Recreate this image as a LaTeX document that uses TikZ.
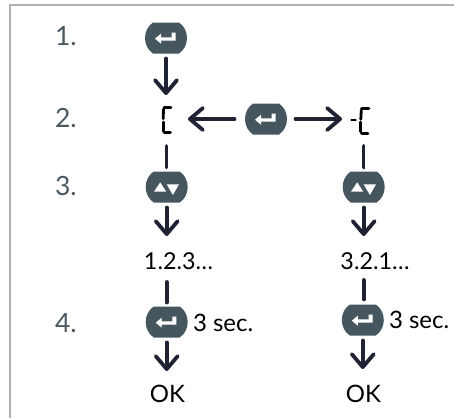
\documentclass[tikz,border=0pt]{standalone}
\usepackage{fontspec}
\setmainfont{Lato}
\usetikzlibrary{arrows.meta}
\definecolor{btnfill}{HTML}{46565F}
\definecolor{conncol}{HTML}{1F2233}
\definecolor{steplabel}{HTML}{4A5860}
\definecolor{framecol}{HTML}{B0B0B0}
\newcommand{\btnbody}{%
  \fill[btnfill] (-13,-15.5) -- (13,-15.5) .. controls (18,-12) and (21,-6.5) .. (21,0)
    .. controls (21,6.5) and (18,12) .. (13,15.5) -- (-13,15.5)
    .. controls (-18,12) and (-21,6.5) .. (-21,0) .. controls (-21,-6.5) and (-18,-12) .. (-13,-15.5) -- cycle;}
\tikzset{
  btnbase/.style={inner sep=0pt,outer sep=0pt,minimum width=42pt,minimum height=31pt},
  enterbtn/.style={btnbase,path picture={
    \begin{scope}[shift={(path picture bounding box.center)}]
      \btnbody
      \fill[white] (-11,0.7) -- (-5,-4.3) -- (-5,-0.7) -- (5.7,-0.7) -- (5.7,-5.3) -- (9.7,-5.3) -- (9.7,2.7) -- (-5,2.7) -- (-5,5.7) -- cycle;
    \end{scope}}},
  updownbtn/.style={btnbase,path picture={
    \begin{scope}[shift={(path picture bounding box.center)}]
      \btnbody
      \fill[white] (-6.5,-4.7) -- (-0.5,4.7) -- (-12.7,4.7) -- cycle;
      \fill[white] (0,-2.7) -- (12.3,-2.7) -- (6.2,8) -- cycle;
    \end{scope}}},
  dispL/.style={inner sep=0pt,outer sep=0pt,minimum width=16pt,minimum height=32pt,path picture={
    \begin{scope}[shift={(path picture bounding box.center)},seg]
      \draw (-2.5,-12.5) -- (4.5,-12.5);
      \draw (-3,-11) -- (-3.3,-1.3);
      \draw (-3.3,2) -- (-3.3,11.5);
      \draw (-2.5,12.8) -- (4,12.8);
    \end{scope}}},
  dispR/.style={inner sep=0pt,outer sep=0pt,minimum width=26pt,minimum height=32pt,path picture={
    \begin{scope}[shift={(path picture bounding box.center)},seg]
      \draw (-12.5,0) -- (-8,0);
      \draw (-2,-11.7) -- (5.5,-11.7);
      \draw (-2.2,-10) -- (-2.7,-0.7);
      \draw (-2.7,2) -- (-2.7,11.7);
      \draw (-2,13.3) -- (4.5,13.3);
    \end{scope}}},
  seg/.style={draw=black,line width=2.8pt,line cap=round},
  conn/.style={draw=conncol,line width=3.8pt,line cap=round},
  arr/.style={conn,-{Straight Barb[length=13pt,width=22pt,round]}},
  steptxt/.style={anchor=base west,inner sep=0pt,outer sep=0pt,text=steplabel,font=\fontsize{26.5}{26.5}\selectfont},
  plaintxt/.style={anchor=base,inner sep=0pt,outer sep=0pt,text=black,text height=17pt,text depth=0pt,font=\fontsize{24}{24}\selectfont},
  seqtxt/.style={plaintxt,font=\fontsize{23.3}{23.3}\selectfont},
}
\begin{document}
\begin{tikzpicture}[x=1pt,y=-1pt]
\useasboundingbox (0,0) rectangle (454,418);
\fill[white] (0,0) rectangle (454,418);
\draw[framecol,line width=1.6pt] (9.8,418) -- (9.8,5.2) -- (454,5.2);

\node[steptxt] (s1) at (55,45) {1.};
\node[steptxt] (s2) at (55,127) {2.};
\node[steptxt] (s3) at (55,195) {3.};
\node[steptxt] (s4) at (55,332) {4.};

\node[enterbtn] (b1) at (166,38) {};
\node[dispL] (d1) at (166.5,120) {};
\node[enterbtn] (b2) at (266,119) {};
\node[dispR] (d2) at (363.5,120) {};
\node[updownbtn] (u1) at (166.7,187) {};
\node[updownbtn] (u2) at (363.7,187) {};
\node[seqtxt] (t1) at (178.5,269) {1.2.3…};
\node[seqtxt] (t2) at (375,269) {3.2.1…};
\node[enterbtn] (e1) at (166.7,322) {};
\node[enterbtn] (e2) at (362.8,320) {};
\node[plaintxt,anchor=base west] (c1) at (193,331) {3 sec.};
\node[plaintxt,anchor=base west] (c2) at (389,328) {3 sec.};
\node[plaintxt] (k1) at (167.5,402) {OK};
\node[plaintxt] (k2) at (363.5,402) {OK};

\draw[arr,shorten <=5pt,shorten >=9pt] (b1.south) -- (b1.south |- d1.north);
\draw[arr,shorten <=10.5pt,shorten >=13.5pt] (b2.west) -- (b2.west -| d1.east);
\draw[arr,shorten <=8.5pt,shorten >=8.5pt] (b2.east) -- (b2.east -| d2.west);
\draw[conn,shorten <=10pt,shorten >=4pt] (d1.south) -- (d1.south |- u1.north);
\draw[conn,shorten <=10pt,shorten >=4pt] (d2.south) -- (d2.south |- u2.north);
\draw[arr,shorten <=5pt,shorten >=16pt] (u1.south) -- (u1.south |- t1.north);
\draw[arr,shorten <=5pt,shorten >=16pt] (u2.south) -- (u2.south |- t2.north);
\draw[conn,shorten <=13pt,shorten >=4pt] (u1.south |- t1.south) -- (u1.south |- e1.north);
\draw[conn,shorten <=11pt,shorten >=5pt] (u2.south |- t2.south) -- (u2.south |- e2.north);
\draw[arr,shorten <=5pt,shorten >=14pt] (e1.south) -- (e1.south |- k1.north);
\draw[arr,shorten <=5pt,shorten >=16pt] (e2.south) -- (e2.south |- k2.north);
\end{tikzpicture}
\end{document}
